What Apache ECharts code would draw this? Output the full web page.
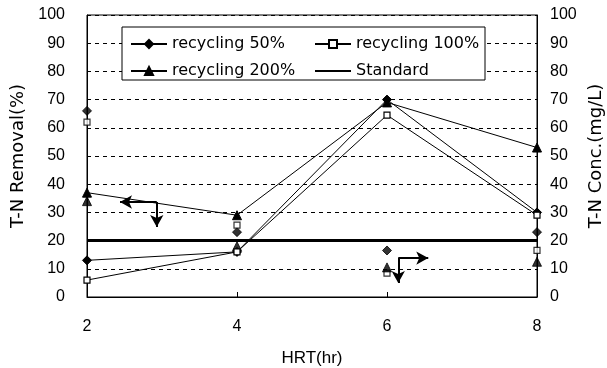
<!DOCTYPE html>
<html>
<head>
<meta charset="utf-8">
<script src="https://cdn.jsdelivr.net/npm/echarts@6/dist/echarts.min.js"></script>
<style>html,body{margin:0;padding:0;background:#fff}#c{width:607px;height:368px}</style>
</head>
<body>
<div id="c"></div>
<script>
// HRT categories (hr)
var hrt = [2, 4, 6, 8];
// T-N removal (%) lines, left axis
var removal50 = [13, 16, 70, 30];
var removal100 = [6, 16, 64.5, 29];
var removal200 = [37, 29, 69, 53];
// T-N concentration (mg/L) markers, right axis
var conc50 = [66, 23, 16.5, 23];
var conc100 = [62, 25.5, 8.5, 16.5];
var conc200 = [34, 18, 10.5, 12.5];
// effluent standard (mg/L)
var standard = [20, 20];
var standardX = [2, 8];
// annotation arrows [x1,y1,x2,y2]
var arrows = [
  [2.93, 33.7, 2.44, 33.7],
  [2.93, 33.7, 2.93, 24.8],
  [6.15, 13.8, 6.15, 5],
  [6.15, 13.8, 6.55, 13.8]
];

function pairs(xs, ys) { return xs.map(function (x, i) { return [x, ys[i]]; }); }

var FONT = 'Liberation Sans';
var NFONT = 'DejaVu Sans';
var black = '#000';
var chart = echarts.init(document.getElementById('c'));

var markerStyle = { color: black, borderColor: black, borderWidth: 1 };
var rectStyle = { color: '#fff', borderColor: black, borderWidth: 1.2 };
var legendText = { fontFamily: NFONT, fontSize: 16, color: black };

chart.setOption({
  animation: false,
  textStyle: { fontFamily: FONT, color: black },
  grid: { left: 87, right: 70, top: 15, bottom: 71, show: true, borderColor: black, borderWidth: 1,
          outerBoundsMode: 'none', containLabel: false },
  graphic: [{
    type: 'rect', z: 3,
    shape: { x: 122, y: 27, width: 363, height: 53 },
    style: { fill: '#fff', stroke: black, lineWidth: 1 }
  }],
  legend: [{
    orient: 'vertical', left: 125, top: 31, itemGap: 11, itemWidth: 36, itemHeight: 10, z: 5,
    textStyle: legendText,
    data: ['recycling 50%', 'recycling 200%']
  }, {
    orient: 'vertical', left: 309, top: 31, itemGap: 11, itemWidth: 36, itemHeight: 10, z: 5,
    textStyle: legendText,
    data: ['recycling 100%', { name: 'Standard', itemStyle: { color: 'rgba(0,0,0,0)', borderWidth: 0 } }]
  }],
  xAxis: {
    type: 'value', min: 2, max: 8, interval: 2,
    name: 'HRT(hr)', nameLocation: 'middle', nameGap: 53,
    nameTextStyle: { fontFamily: FONT, fontSize: 17, color: black },
    axisLine: { lineStyle: { color: black, width: 1 } },
    axisTick: { inside: true, length: 5, lineStyle: { color: black } },
    axisLabel: { margin: 22, fontSize: 16, color: black, fontFamily: FONT },
    splitLine: { show: false }
  },
  yAxis: [{
    type: 'value', min: 0, max: 100, interval: 10,
    name: 'T-N Removal(%)', nameLocation: 'middle', nameGap: 59, nameRotate: 90,
    nameTextStyle: { fontFamily: NFONT, fontSize: 18, color: black },
    axisLine: { show: true, lineStyle: { color: black, width: 1 } },
    axisTick: { show: false },
    axisLabel: { margin: 22, fontSize: 16, color: black, fontFamily: FONT },
    splitLine: { show: true, lineStyle: { color: black, type: [4, 4], width: 1 } }
  }, {
    type: 'value', min: 0, max: 100, interval: 10, position: 'right',
    name: 'T-N Conc.(mg/L)', nameLocation: 'middle', nameGap: 50, nameRotate: 90,
    nameTextStyle: { fontFamily: NFONT, fontSize: 18, color: black },
    axisLine: { show: true, lineStyle: { color: black, width: 1 } },
    axisTick: { show: false },
    axisLabel: { margin: 13, fontSize: 16, color: black, fontFamily: FONT },
    splitLine: { show: false }
  }],
  series: [{
    name: 'recycling 50%', type: 'line', data: pairs(hrt, removal50),
    symbol: 'diamond', symbolSize: 9,
    lineStyle: { color: black, width: 1 }, itemStyle: markerStyle
  }, {
    name: 'recycling 100%', type: 'line', data: pairs(hrt, removal100),
    symbol: 'rect', symbolSize: 6,
    lineStyle: { color: black, width: 1 }, itemStyle: rectStyle
  }, {
    name: 'recycling 200%', type: 'line', data: pairs(hrt, removal200),
    symbol: 'triangle', symbolSize: 9,
    lineStyle: { color: black, width: 1 }, itemStyle: markerStyle
  }, {
    name: 'Standard', type: 'line', yAxisIndex: 1, data: pairs(standardX, standard),
    symbol: 'none', lineStyle: { color: black, width: 3 }, itemStyle: { color: black }
  }, {
    name: 'conc 50%', type: 'scatter', yAxisIndex: 1, data: pairs(hrt, conc50),
    symbol: 'diamond', symbolSize: 9, itemStyle: markerStyle
  }, {
    name: 'conc 100%', type: 'scatter', yAxisIndex: 1, data: pairs(hrt, conc100),
    symbol: 'rect', symbolSize: 6, itemStyle: rectStyle
  }, {
    name: 'conc 200%', type: 'scatter', yAxisIndex: 1, data: pairs(hrt, conc200),
    symbol: 'triangle', symbolSize: 9, itemStyle: markerStyle
  }, {
    name: 'arrows', type: 'line', data: [], silent: true,
    markLine: {
      silent: true, symbol: ['none', 'arrow'], symbolSize: [10, 12],
      label: { show: false },
      lineStyle: { color: black, width: 2, type: 'solid' },
      data: arrows.map(function (a) { return [{ coord: [a[0], a[1]] }, { coord: [a[2], a[3]] }]; })
    }
  }]
});
</script>
</body>
</html>
